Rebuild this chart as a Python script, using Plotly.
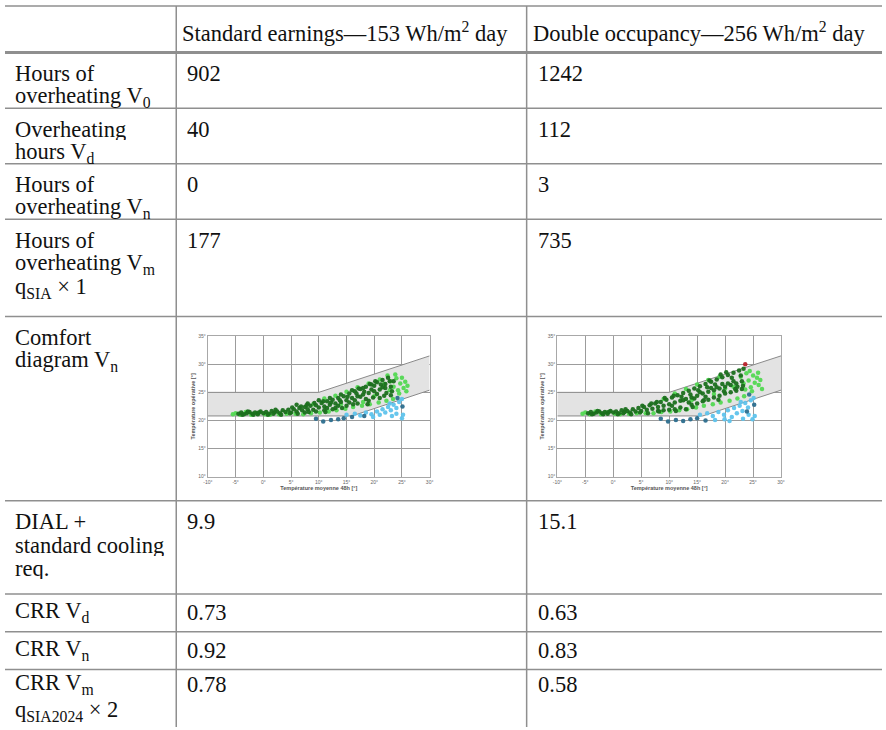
import plotly.graph_objects as go

W, H = 886, 730

# ---------------- table content ----------------
col_headers = ["Standard earnings—153 Wh/m<sup>2</sup> day",
               "Double occupancy—256 Wh/m<sup>2</sup> day"]
row_labels = [
    ["Hours of", "overheating V<sub>0</sub>"],
    ["Overheating", "hours V<sub>d</sub>"],
    ["Hours of", "overheating V<sub>n</sub>"],
    ["Hours of", "overheating V<sub>m</sub>", "q<sub>SIA</sub> × 1"],
    ["Comfort", "diagram V<sub>n</sub>"],
    ["DIAL +", "standard cooling", "req."],
    ["CRR V<sub>d</sub>"],
    ["CRR V<sub>n</sub>"],
    ["CRR V<sub>m</sub>", "q<sub>SIA2024</sub> × 2"],
]
standard_vals = ["902", "40", "0", "177", None, "9.9", "0.73", "0.92", "0.78"]
double_vals = ["1242", "112", "3", "735", None, "15.1", "0.63", "0.83", "0.58"]

# ---------------- comfort diagram data ----------------
x_ticks = [-10, -5, 0, 5, 10, 15, 20, 25, 30]
y_ticks = [10, 15, 20, 25, 30, 35]
band_x = [-10, 10, 30, 30, 16, -10]
band_y = [25, 25, 31.5, 25.4, 20.8, 20.8]
upper_x = [-10, 10, 30]
upper_y = [25, 25, 31.5]
lower_x = [-10, 16, 30]
lower_y = [20.8, 20.8, 25.4]

# Standard earnings
std_dg = [(-4.5,21.2),(-4,21.4),(-3.5,21.1),(-3,21.3),(-2.5,21.5),(-2,21.2),(-1.5,21.4),(-1,21.1),(-0.5,21.6),(0,21.3),
          (0.5,21.5),(1,21.2),(1.5,21.7),(2,21.4),(2.5,21.6),(3,21.3),(3.5,21.8),(4,21.5),(4.5,21.9),(5,21.4),
          (5.5,22.0),(6,21.6),(6.5,22.2),(7,21.8),(7.5,22.4),(8,22.0),(8.5,22.6),(9,21.9),(9.5,22.7),(10,22.3),
          (10.5,23.1),(11,22.5),(11.5,23.4),(12,22.8),(12.5,23.7),(13,23.0),(13.5,24.0),(14,23.3),(14.5,24.3),(15,23.6),
          (15.5,24.8),(16,24.0),(16.5,25.2),(17,24.3),(17.5,25.6),(18,24.6),(18.5,26.0),(19,24.9),(19.5,26.4),(20,25.2),
          (20.5,26.8),(21,25.5),(21.5,27.2),(22,25.8),(22.5,27.6),(23,26.0),(23.5,27.0),
          (6,22.8),(8,23.0),(10,23.6),(11,21.8),(12,24.0),(13,22.2),(14,24.6),(15,22.6),(16,25.4),(17,23.0),
          (18,25.8),(19,23.5),(20,26.2),(21,24.0),(22,26.5),(23,24.5),(12.5,22.0),(16.5,23.6),(18.5,23.8),(20.5,24.7),
          (21.5,25.9),(19.5,25.5),(17.5,24.2),(15.5,23.2),(13.5,22.6),(11.5,22.2),(9.5,21.6),(7.5,21.4),
          (-3.8,21.0),(-2.8,21.6),(-1.8,21.0),(-0.8,21.4),(0.8,21.0),(1.8,21.2),(2.2,21.9),(3.2,21.0),(4.8,21.3),(5.2,22.3),
          (6.2,21.2),(6.8,22.5),(7.8,22.7),(8.2,21.5),(9.2,23.1),(10.8,23.4),(11.2,21.5),(12.2,23.2),(13.8,23.6),(14.2,22.2),
          (15.2,24.2),(16.2,22.9),(16.8,24.8),(17.2,25.7),(18.2,25.1),(18.8,22.9),(19.2,26.5),(20.2,27.0),(21.2,26.4),(22.2,24.9),
          (22.8,27.0),(23.2,25.2),(19.8,24.1),(21.8,24.4)]
std_lg = [(-5.5,21.1),(-5,21.3),(-4.2,21.0),(-3.2,21.5),(-2.2,21.0),(-1.2,21.3),(0.3,21.1),(1.2,21.0),(2.8,21.1),(4.2,21.2),
          (5.8,21.2),(7.2,21.1),(8.6,21.3),(10.2,21.4),(11.8,21.6),(13.2,21.8),(14.8,22.1),(16.2,22.4),(17.8,22.6),(19.2,22.9),
          (20.8,23.2),(22.2,23.5),(23.4,23.8),
          (21,27.3),(21.8,26.5),(22.4,28.0),(23,27.0),(23.5,26.0),(24,27.5),(24.3,25.4),(24.7,26.6),(25,27.6),(25.3,25.8),
          (25.6,26.9),(26,26.2),(24.5,24.8),(23.8,28.2),(22.8,25.4),(25.8,25.2),(9,22.9),(11,23.9),(13,24.4),(15,25.1),
          (17,25.9),(19,26.6),(14,22.9),(18,23.3),(20,24.3)]
std_lb = [(15,21.0),(16.5,21.2),(17.5,20.9),(18.5,21.4),(19.5,21.1),(20.5,21.6),(21,21.0),(21.5,22.0),(22,21.4),(22.5,22.4),
          (23,21.8),(23.5,22.8),(24,22.2),(24.5,23.3),(24,21.2),(25,23.8),(25.2,21.0),(25,20.4),(23.2,20.8),(19.8,20.6),(22.8,23.0)]
std_db = [(9.5,20.3),(10.8,19.8),(12.2,20.1),(13.5,20.2),(14.5,20.4),(16,20.6),(18.2,20.8),(24.2,24.0),(25.1,22.5)]
std_red = []

# Double occupancy
dbl_dg = [(-4.5,21.3),(-4,21.5),(-3.5,21.2),(-3,21.4),(-2.5,21.6),(-2,21.3),(-1.5,21.5),(-1,21.2),(-0.5,21.7),(0,21.4),
          (0.5,21.6),(1,21.3),(1.5,21.8),(2,21.5),(2.5,21.7),(3,21.4),(3.5,22.0),(4,21.6),(4.5,22.2),(5,21.7),
          (5.5,22.4),(6,21.9),(6.5,22.7),(7,22.1),(7.5,23.0),(8,22.4),(8.5,23.3),(9,22.6),(9.5,23.7),(10,22.9),
          (10.5,24.1),(11,23.2),(11.5,24.5),(12,23.5),(12.5,24.9),(13,23.8),(13.5,25.3),(14,24.1),(14.5,25.7),(15,24.4),
          (15.5,26.1),(16,24.8),(16.5,26.5),(17,25.1),(17.5,26.9),(18,25.4),(18.5,27.3),(19,25.7),(19.5,27.7),(20,26.0),
          (20.5,28.1),(21,26.3),(21.5,28.5),(22,26.6),(22.5,28.9),(23,27.0),(23.3,29.2),
          (8,21.7),(10,21.9),(12,22.3),(13,22.0),(14,22.8),(15,23.0),(16,23.4),(17,23.7),(18,24.1),(19,24.4),
          (20,24.8),(21,25.0),(22,25.3),(23,25.6),(11,22.0),(13.5,23.2),(16.5,24.2),(18.5,25.9),(20.5,26.6),(21.5,27.0),
          (19.5,26.5),(17.5,25.8),(15.5,25.0),(14.5,23.9),(12.5,23.6),(10.5,22.6),(9,21.8),
          (-3.8,21.1),(-2.8,21.7),(-1.8,21.1),(-0.8,21.5),(0.8,21.1),(1.8,21.3),(2.2,22.0),(3.2,21.1),(4.8,21.4),(5.2,22.6),
          (6.2,21.3),(6.8,23.0),(7.8,23.3),(8.2,21.6),(9.2,24.0),(10.8,24.4),(11.2,21.7),(12.2,24.2),(13.8,24.6),(14.2,22.4),
          (15.2,25.4),(16.2,23.6),(16.8,25.9),(17.2,27.1),(18.2,26.4),(18.8,23.7),(19.2,28.2),(20.2,28.6),(21.2,27.6),(22.2,26.0),
          (22.8,28.0),(23.2,26.2),(19.8,25.2),(21.8,25.6)]
dbl_lg = [(-5.5,21.2),(-5,21.4),(-4.2,21.1),(-3.2,21.6),(-2.2,21.1),(-1.2,21.4),(0.3,21.2),(1.2,21.1),(2.8,21.2),(4.2,21.3),
          (5.8,21.3),(7.2,21.3),(8.6,21.5),(10.2,21.6),(11.8,21.8),(13.2,22.0),(14.8,22.3),(16.2,22.6),(17.8,22.9),(19.2,23.2),
          (20.8,23.5),(22.2,23.9),(23.4,24.3),
          (22.8,27.8),(23.3,26.6),(23.8,28.4),(24.2,27.1),(24.6,25.9),(25,28.0),(25.3,26.7),(25.7,27.6),(26,26.3),(26.3,27.2),
          (26.6,25.6),(24.8,25.2),(23.6,25.5),(25.9,28.5),(24.4,28.8),(9,23.8),(11,24.8),(13,25.6),(15,26.4),(17,27.2),
          (19,27.8),(14,23.6),(18,24.7),(20,25.7),(21.5,26.0)]
dbl_lb = [(15.5,21.0),(16.8,21.3),(17.8,20.8),(18.8,21.5),(19.8,21.0),(20.5,21.8),(21.2,20.6),(21.6,22.2),(22.1,21.3),(22.6,22.6),
          (23.1,21.7),(23.6,23.1),(24.1,22.3),(24.6,23.6),(24.2,21.0),(25.1,24.0),(25.3,20.8),(24.9,20.2),(23.2,20.3),(19.9,20.2),
          (22.8,23.3),(18.2,20.1),(20.8,19.9)]
dbl_db = [(8.5,20.3),(9.8,19.8),(11.2,20.1),(12.5,19.9),(13.8,20.2),(15,20.4),(16.5,20.0),(24.3,24.6),(25.2,22.8),(23.9,21.6)]
dbl_red = [(23.6,30.0)]

# ---------------- layout geometry (pixels) ----------------
col_x = [0, 173, 527, 886]
header_line_y = 50
row_lines_y = [106, 162, 218, 316, 502, 596, 634, 672]
header_text_y = 29
row_text_y = [[71, 95], [127, 151], [183, 207], [239, 263, 287], [337, 361],
              [522, 546, 570], [614], [652], [687, 714]]
chart_px = [(205, 429), (558, 784)]
chart_py = (336, 477.5)

FONT = "Liberation Serif, Times New Roman, serif"
FS = 22.5


def px(x):
    return x / W


def py(y):
    return 1 - y / H


fig = go.Figure()
shapes = []
annotations = []
LC = "#8f8f8f"

# table lines
shapes.append(dict(type="line", xref="paper", yref="paper", x0=0, x1=1, y0=py(3), y1=py(3),
                   line=dict(color=LC, width=1.5)))
shapes.append(dict(type="line", xref="paper", yref="paper", x0=0, x1=1, y0=py(header_line_y), y1=py(header_line_y),
                   line=dict(color=LC, width=3)))
for yl in row_lines_y:
    shapes.append(dict(type="line", xref="paper", yref="paper", x0=0, x1=1, y0=py(yl), y1=py(yl),
                       line=dict(color=LC, width=1.5)))
for xv in col_x[1:3]:
    shapes.append(dict(type="line", xref="paper", yref="paper", x0=px(xv), x1=px(xv), y0=py(3), y1=0,
                       line=dict(color=LC, width=1.5)))


def add_text(x, y, t, h=22):
    annotations.append(dict(xref="paper", yref="paper", x=px(x), y=py(y), text=t, showarrow=False,
                            xanchor="left", yanchor="middle", height=h, valign="middle", borderpad=0,
                            font=dict(family=FONT, size=FS, color="#111")))


add_text(col_x[1] + 5, header_text_y, col_headers[0], h=34)
add_text(col_x[2] + 5, header_text_y, col_headers[1], h=34)
for i, lines in enumerate(row_labels):
    for j, t in enumerate(lines):
        add_text(9, row_text_y[i][j], t)
    if standard_vals[i] is not None:
        add_text(col_x[1] + 10, row_text_y[i][0], standard_vals[i])
        add_text(col_x[2] + 10, row_text_y[i][0], double_vals[i])

# comfort diagrams
series = [
    (std_lb, std_db, std_lg, std_dg, std_red),
    (dbl_lb, dbl_db, dbl_lg, dbl_dg, dbl_red),
]
colors = ["#5ec3ec", "#2c6e8e", "#52d852", "#1b6f1e", "#b8202a"]
for k, grp in enumerate(series):
    xa = "x" if k == 0 else "x2"
    ya = "y" if k == 0 else "y2"
    fig.add_trace(go.Scatter(x=band_x, y=band_y, fill="toself", fillcolor="#e3e3e3", mode="none",
                             xaxis=xa, yaxis=ya, hoverinfo="skip"))
    fig.add_trace(go.Scatter(x=upper_x, y=upper_y, mode="lines", line=dict(color="#8a8a8a", width=1),
                             xaxis=xa, yaxis=ya))
    fig.add_trace(go.Scatter(x=lower_x, y=lower_y, mode="lines", line=dict(color="#8a8a8a", width=1),
                             xaxis=xa, yaxis=ya))
    for pts, c in zip(grp, colors):
        if not pts:
            continue
        fig.add_trace(go.Scatter(x=[p[0] for p in pts], y=[p[1] for p in pts], mode="markers",
                                 marker=dict(color=c, size=4.5, opacity=0.95, line=dict(width=0)),
                                 xaxis=xa, yaxis=ya))

axis_common = dict(showgrid=True, gridcolor="#9c9c9c", gridwidth=1.2, zeroline=False,
                   showline=True, linecolor="#a8a8a8", linewidth=1.2, mirror=True,
                   ticks="", tickfont=dict(family="Liberation Sans, Arial", size=5, color="#666"))
xt = [f"{v}°" for v in x_ticks]
yt = [f"{v}°" for v in y_ticks]
for k in range(2):
    x0, x1 = chart_px[k]
    xd = [px(x0), px(x1)]
    yd = [py(chart_py[1]), py(chart_py[0])]
    xkey = "xaxis" if k == 0 else "xaxis2"
    ykey = "yaxis" if k == 0 else "yaxis2"
    fig.update_layout(**{
        xkey: dict(axis_common, domain=xd, range=[-10, 30], tickvals=x_ticks, ticktext=xt,
                   anchor="y" if k == 0 else "y2",
                   title=dict(text="<b>Température moyenne 48h [°]</b>", standoff=2,
                              font=dict(family="Liberation Sans, Arial", size=5.5, color="#555"))),
        ykey: dict(axis_common, domain=yd, range=[10, 35], tickvals=y_ticks, ticktext=yt,
                   anchor="x" if k == 0 else "x2",
                   title=dict(text="<b>Température opérative [°]</b>", standoff=2,
                              font=dict(family="Liberation Sans, Arial", size=5.5, color="#555"))),
    })

fig.update_layout(width=W, height=H, margin=dict(l=0, r=0, t=0, b=0), showlegend=False,
                  paper_bgcolor="white", plot_bgcolor="white", shapes=shapes, annotations=annotations)
fig.write_html("out.html", config={"displayModeBar": False},
               post_script="document.body.style.margin='0px';document.body.style.overflow='hidden';")
